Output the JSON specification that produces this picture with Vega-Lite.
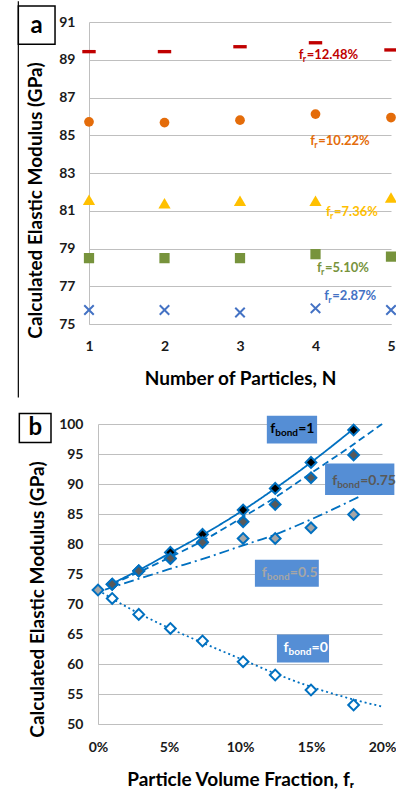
{
  "$schema": "https://vega.github.io/schema/vega-lite/v6.json",
  "padding": {"left": 17, "top": 0, "right": 0, "bottom": 0},
  "columns": 1,
  "bounds": "flush",
  "center": true,
  "spacing": 100,
  "background": "white",
  "resolve": {"scale": {"color": "independent", "fill": "independent", "strokeDash": "independent"}},
  "config": {
    "view": {"stroke": null},
    "axis": {
      "labelFont": "Lato", "labelFontSize": 14, "labelFontWeight": "bold", "labelColor": "#1a1a1a",
      "titleFont": "Lato", "titleFontSize": 19, "titleFontWeight": "bold", "titleColor": "#000000",
      "ticks": false, "domainColor": "#BFBFBF", "gridColor": "#BFBFBF", "labelOverlap": false, "labelFlush": false
    },
    "text": {"font": "Lato", "fontWeight": "bold"}
  },
  "datasets": {
    "aFrame": [{"N": 0.064, "E": 92.1, "E2": 71.1}],
    "aBox": [{"N": 0.064, "N2": 0.55, "E": 91.85, "E2": 89.82}],
    "aTag": [{"N": 0.307, "E": 90.8, "tag": "a"}],
    "aPoints": [
      {"N": 1, "E": 89.43, "fr": "12.48%"}, {"N": 2, "E": 89.43, "fr": "12.48%"}, {"N": 3, "E": 89.69, "fr": "12.48%"}, {"N": 4, "E": 89.9, "fr": "12.48%"}, {"N": 5, "E": 89.52, "fr": "12.48%"},
      {"N": 1, "E": 85.71, "fr": "10.22%"}, {"N": 2, "E": 85.67, "fr": "10.22%"}, {"N": 3, "E": 85.8, "fr": "10.22%"}, {"N": 4, "E": 86.12, "fr": "10.22%"}, {"N": 5, "E": 85.94, "fr": "10.22%"},
      {"N": 1, "E": 81.58, "fr": "7.36%"}, {"N": 2, "E": 81.4, "fr": "7.36%"}, {"N": 3, "E": 81.53, "fr": "7.36%"}, {"N": 4, "E": 81.53, "fr": "7.36%"}, {"N": 5, "E": 81.7, "fr": "7.36%"},
      {"N": 1, "E": 78.49, "fr": "5.10%"}, {"N": 2, "E": 78.49, "fr": "5.10%"}, {"N": 3, "E": 78.49, "fr": "5.10%"}, {"N": 4, "E": 78.7, "fr": "5.10%"}, {"N": 5, "E": 78.57, "fr": "5.10%"},
      {"N": 1, "E": 75.74, "fr": "2.87%"}, {"N": 2, "E": 75.74, "fr": "2.87%"}, {"N": 3, "E": 75.61, "fr": "2.87%"}, {"N": 4, "E": 75.83, "fr": "2.87%"}, {"N": 5, "E": 75.74, "fr": "2.87%"}
    ],
    "aLabels": [
      {"N": 3.778, "E": 89.02, "fr": "12.48%", "rest": "=12.48%"},
      {"N": 3.931, "E": 84.48, "fr": "10.22%", "rest": "=10.22%"},
      {"N": 4.139, "E": 80.72, "fr": "7.36%", "rest": "=7.36%"},
      {"N": 4.02, "E": 77.77, "fr": "5.10%", "rest": "=5.10%"},
      {"N": 4.117, "E": 76.25, "fr": "2.87%", "rest": "=2.87%"}
    ],
    "bBox": [{"fr": -0.0554, "fr2": -0.0331, "E": 101.77, "E2": 96.93}],
    "bTag": [{"fr": -0.0442, "E": 99.35, "tag": "b"}],
    "bPoints": [
      {"fr": 0.01, "E": 70.93, "bond": "0"}, {"fr": 0.0287, "E": 68.27, "bond": "0"}, {"fr": 0.051, "E": 65.93, "bond": "0"}, {"fr": 0.0736, "E": 63.83, "bond": "0"}, {"fr": 0.1022, "E": 60.38, "bond": "0"}, {"fr": 0.1248, "E": 58.17, "bond": "0"}, {"fr": 0.15, "E": 55.67, "bond": "0"}, {"fr": 0.18, "E": 53.17, "bond": "0"},
      {"fr": 0.01, "E": 73.3, "bond": "0.5"}, {"fr": 0.0287, "E": 75.5, "bond": "0.5"}, {"fr": 0.051, "E": 77.6, "bond": "0.5"}, {"fr": 0.0736, "E": 80.3, "bond": "0.5"},
      {"fr": 0.01, "E": 73.3, "bond": "1"}, {"fr": 0.0287, "E": 75.55, "bond": "1"}, {"fr": 0.051, "E": 78.6, "bond": "1"}, {"fr": 0.0736, "E": 81.6, "bond": "1"}, {"fr": 0.1022, "E": 85.67, "bond": "1"}, {"fr": 0.1248, "E": 89.27, "bond": "1"}, {"fr": 0.15, "E": 93.6, "bond": "1"}, {"fr": 0.18, "E": 99.0, "bond": "1"},
      {"fr": 0.01, "E": 73.3, "bond": "0.75"}, {"fr": 0.0287, "E": 75.5, "bond": "0.75"}, {"fr": 0.051, "E": 77.6, "bond": "0.75"}, {"fr": 0.0736, "E": 80.27, "bond": "0.75"}, {"fr": 0.1022, "E": 83.7, "bond": "0.75"}, {"fr": 0.1248, "E": 86.6, "bond": "0.75"}, {"fr": 0.15, "E": 91.05, "bond": "0.75"}, {"fr": 0.18, "E": 94.83, "bond": "0.75"},
      {"fr": 0.1022, "E": 80.93, "bond": "0.5"}, {"fr": 0.1248, "E": 80.93, "bond": "0.5"}, {"fr": 0.15, "E": 82.7, "bond": "0.5"}, {"fr": 0.18, "E": 84.93, "bond": "0.5"}, {"fr": 0, "E": 72.33, "bond": "0.5"}
    ],
    "bLines": [
      {"fr": 0.01, "E": 73.4, "bond": "1"}, {"fr": 0.03, "E": 75.8, "bond": "1"}, {"fr": 0.05, "E": 78.4, "bond": "1"}, {"fr": 0.075, "E": 81.7, "bond": "1"}, {"fr": 0.1, "E": 85.3, "bond": "1"}, {"fr": 0.125, "E": 89.3, "bond": "1"}, {"fr": 0.15, "E": 93.6, "bond": "1"}, {"fr": 0.18, "E": 99.2, "bond": "1"},
      {"fr": 0.01, "E": 73.3, "bond": "0.75"}, {"fr": 0.05, "E": 77.7, "bond": "0.75"}, {"fr": 0.075, "E": 80.7, "bond": "0.75"}, {"fr": 0.1, "E": 84.2, "bond": "0.75"}, {"fr": 0.125, "E": 87.8, "bond": "0.75"}, {"fr": 0.15, "E": 91.8, "bond": "0.75"}, {"fr": 0.175, "E": 95.8, "bond": "0.75"}, {"fr": 0.2, "E": 100.0, "bond": "0.75"},
      {"fr": 0.005, "E": 72.4, "bond": "0.5"}, {"fr": 0.05, "E": 75.8, "bond": "0.5"}, {"fr": 0.075, "E": 77.6, "bond": "0.5"}, {"fr": 0.1, "E": 79.6, "bond": "0.5"}, {"fr": 0.125, "E": 81.6, "bond": "0.5"}, {"fr": 0.15, "E": 84.1, "bond": "0.5"}, {"fr": 0.184, "E": 87.9, "bond": "0.5"},
      {"fr": 0, "E": 72.3, "bond": "0"}, {"fr": 0.025, "E": 68.9, "bond": "0"}, {"fr": 0.05, "E": 66.0, "bond": "0"}, {"fr": 0.075, "E": 63.4, "bond": "0"}, {"fr": 0.1, "E": 60.9, "bond": "0"}, {"fr": 0.125, "E": 58.4, "bond": "0"}, {"fr": 0.15, "E": 56.2, "bond": "0"}, {"fr": 0.175, "E": 54.4, "bond": "0"}, {"fr": 0.2, "E": 52.9, "bond": "0"}
    ],
    "bBoxes": [
      {"bond": "1", "fr": 0.1189, "fr2": 0.1543, "E": 101.38, "E2": 96.77},
      {"bond": "0.75", "fr": 0.1599, "fr2": 0.2087, "E": 93.43, "E2": 88.17},
      {"bond": "0.5", "fr": 0.1105, "fr2": 0.1555, "E": 77.38, "E2": 72.88},
      {"bond": "0", "fr": 0.126, "fr2": 0.1627, "E": 64.93, "E2": 60.27}
    ],
    "bLabels": [
      {"bond": "1", "fr": 0.1213, "E": 98.43, "rest": "=1"},
      {"bond": "0.75", "fr": 0.1649, "E": 89.83, "rest": "=0.75"},
      {"bond": "0.5", "fr": 0.1154, "E": 74.55, "rest": "=0.5"},
      {"bond": "0", "fr": 0.1307, "E": 61.93, "rest": "=0"}
    ]
  },
  "concat": [
    {
      "width": 302,
      "height": 302,
      "encoding": {
        "x": {"field": "N", "type": "quantitative",
          "scale": {"domain": [1, 5], "nice": false, "zero": false},
          "axis": {"values": [1, 2, 3, 4, 5], "format": "d", "grid": false, "domain": true,
            "labelBaseline": "alphabetic", "labelPadding": 26,
            "title": "Number of Particles, N", "titleBaseline": "alphabetic", "titleY": 60}},
        "y": {"field": "E", "type": "quantitative",
          "scale": {"domain": [75, 91], "nice": false, "zero": false},
          "axis": {"values": [75, 77, 79, 81, 83, 85, 87, 89, 91], "grid": true, "domain": true,
            "labelPadding": 14,
            "title": "Calculated Elastic Modulus (GPa)", "titleBaseline": "alphabetic", "titleX": -48, "titleY": 178}}
      },
      "layer": [
        {"data": {"name": "aFrame"}, "mark": {"type": "rule", "color": "#000000", "strokeWidth": 1.2},
          "encoding": {"y2": {"field": "E2"}}},
        {"data": {"name": "aBox"}, "mark": {"type": "rect", "fill": "#FFFFFF", "stroke": "#000000", "strokeWidth": 1.5},
          "encoding": {"x2": {"field": "N2"}, "y2": {"field": "E2"}}},
        {"data": {"name": "aTag"}, "mark": {"type": "text", "fontSize": 24, "align": "center", "baseline": "middle", "color": "#000000"},
          "encoding": {"text": {"field": "tag"}}},
        {"data": {"name": "aPoints"}, "transform": [{"filter": "datum.fr === '12.48%'"}],
          "mark": {"type": "point", "shape": "M-1,-0.25H1V0.25H-1Z", "filled": true, "color": "#C00000", "size": 180, "opacity": 1}},
        {"data": {"name": "aPoints"}, "transform": [{"filter": "datum.fr === '10.22%'"}],
          "mark": {"type": "point", "shape": "circle", "filled": true, "color": "#E46C0A", "size": 95, "opacity": 1}},
        {"data": {"name": "aPoints"}, "transform": [{"filter": "datum.fr === '7.36%'"}],
          "mark": {"type": "point", "shape": "triangle-up", "filled": true, "color": "#FFC000", "size": 150, "opacity": 1}},
        {"data": {"name": "aPoints"}, "transform": [{"filter": "datum.fr === '5.10%'"}],
          "mark": {"type": "point", "shape": "square", "filled": true, "color": "#77933C", "size": 105, "opacity": 1}},
        {"data": {"name": "aPoints"}, "transform": [{"filter": "datum.fr === '2.87%'"}],
          "mark": {"type": "point", "shape": "M-1,-1L1,1M-1,1L1,-1", "filled": false, "color": "#4472C4", "size": 90, "strokeWidth": 2, "opacity": 1}},
        {"data": {"name": "aLabels"}, "mark": {"type": "text", "text": "f", "fontSize": 13, "align": "left", "baseline": "alphabetic"},
          "encoding": {"color": {"field": "fr", "type": "nominal", "legend": null,
            "scale": {"domain": ["12.48%", "10.22%", "7.36%", "5.10%", "2.87%"], "range": ["#C00000", "#E46C0A", "#FFC000", "#77933C", "#4472C4"]}}}},
        {"data": {"name": "aLabels"}, "mark": {"type": "text", "text": "r", "fontSize": 9, "align": "left", "baseline": "alphabetic", "dx": 4, "dy": 3},
          "encoding": {"color": {"field": "fr", "type": "nominal", "legend": null}}},
        {"data": {"name": "aLabels"}, "mark": {"type": "text", "fontSize": 13, "align": "left", "baseline": "alphabetic", "dx": 8},
          "encoding": {"text": {"field": "rest"}, "color": {"field": "fr", "type": "nominal", "legend": null}}}
      ]
    },
    {
      "width": 284,
      "height": 300,
      "encoding": {
        "x": {"field": "fr", "type": "quantitative",
          "scale": {"domain": [0, 0.2], "nice": false, "zero": false},
          "axis": {"values": [0, 0.05, 0.1, 0.15, 0.2], "format": ".0%", "grid": false, "domain": true,
            "labelBaseline": "alphabetic", "labelPadding": 27,
            "title": "Particle Volume Fraction, fᵣ", "titleBaseline": "alphabetic", "titleY": 61}},
        "y": {"field": "E", "type": "quantitative",
          "scale": {"domain": [50, 100], "nice": false, "zero": false},
          "axis": {"values": [50, 55, 60, 65, 70, 75, 80, 85, 90, 95, 100], "grid": true, "domain": true,
            "labelPadding": 15,
            "title": "Calculated Elastic Modulus (GPa)", "titleBaseline": "alphabetic", "titleX": -55, "titleY": 175}}
      },
      "layer": [
        {"data": {"name": "bBox"}, "mark": {"type": "rect", "fill": "#FFFFFF", "stroke": "#000000", "strokeWidth": 1.5},
          "encoding": {"x2": {"field": "fr2"}, "y2": {"field": "E2"}}},
        {"data": {"name": "bTag"}, "mark": {"type": "text", "fontSize": 24, "align": "center", "baseline": "middle", "color": "#000000"},
          "encoding": {"text": {"field": "tag"}}},
        {"data": {"name": "bLines"},
          "mark": {"type": "line", "color": "#0070C0", "strokeWidth": 1.8, "interpolate": "monotone"},
          "encoding": {"detail": {"field": "bond"},
            "strokeDash": {"field": "bond", "type": "nominal", "legend": null,
              "scale": {"domain": ["1", "0.75", "0.5", "0"], "range": [[1, 0], [7, 4], [10, 4, 2, 4], [2, 3]]}}}},
        {"data": {"name": "bPoints"},
          "mark": {"type": "point", "shape": "diamond", "filled": true, "stroke": "#0070C0", "strokeWidth": 2, "size": 115, "opacity": 1},
          "encoding": {"fill": {"field": "bond", "type": "nominal", "legend": null,
            "scale": {"domain": ["1", "0.75", "0.5", "0"], "range": ["#000000", "#595959", "#A6A6A6", "#FFFFFF"]}}}},
        {"data": {"name": "bBoxes"}, "mark": {"type": "rect", "fill": "#558ED5"},
          "encoding": {"x2": {"field": "fr2"}, "y2": {"field": "E2"}}},
        {"data": {"name": "bLabels"}, "mark": {"type": "text", "text": "f", "fontSize": 14, "align": "left", "baseline": "alphabetic"},
          "encoding": {"color": {"field": "bond", "type": "nominal", "legend": null,
            "scale": {"domain": ["1", "0.75", "0.5", "0"], "range": ["#000000", "#595959", "#A6A6A6", "#FFFFFF"]}}}},
        {"data": {"name": "bLabels"}, "mark": {"type": "text", "text": "bond", "fontSize": 10, "align": "left", "baseline": "alphabetic", "dx": 5, "dy": 3},
          "encoding": {"color": {"field": "bond", "type": "nominal", "legend": null}}},
        {"data": {"name": "bLabels"}, "mark": {"type": "text", "fontSize": 14, "align": "left", "baseline": "alphabetic", "dx": 28},
          "encoding": {"text": {"field": "rest"}, "color": {"field": "bond", "type": "nominal", "legend": null}}}
      ]
    }
  ]
}
